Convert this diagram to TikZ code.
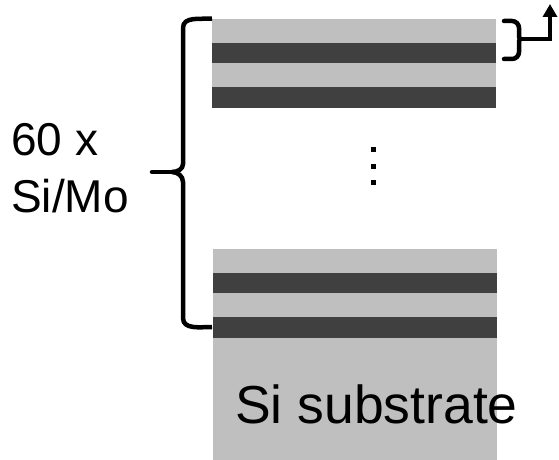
\documentclass[tikz,border=0pt]{standalone}
\usepackage{fontspec}
\setmainfont{Liberation Sans}
\usetikzlibrary{arrows.meta}
\definecolor{lightlay}{HTML}{BFBFBF}
\definecolor{darklay}{HTML}{404040}
\tikzset{
  light/.style={fill=lightlay,draw=none},
  dark/.style={fill=darklay,draw=none},
  bracestyle/.style={line width=4.5pt,black,line cap=round},
  dotbox/.style={fill=black,draw=none,minimum size=5pt,inner sep=0pt},
  lbl/.style={inner sep=0pt,anchor=base west}
}
\begin{document}
\begin{tikzpicture}[x=1pt,y=-1pt]
\useasboundingbox (0,0) rectangle (559,460);
% top stack
\fill[light] (212,19) rectangle (496,43);
\fill[dark] (212,43) rectangle (496,63);
\fill[light] (212,63) rectangle (496,87);
\fill[dark] (212,87) rectangle (496,108);
% bottom stack
\fill[light] (213,249) rectangle (497,273);
\fill[dark] (213,273) rectangle (497,293);
\fill[light] (213,293) rectangle (497,317);
\fill[dark] (213,317) rectangle (497,338);
\fill[light] (213,338) rectangle (497,460);
% dots
\node[dotbox] (d1) at (373,149) {};
\node[dotbox] (d2) at (373,166) {};
\node[dotbox] (d3) at (373,182) {};
% labels
\node[lbl] (sub) at (235,423) {\fontsize{53.5}{60}\selectfont Si substrate};
\node[lbl] (n60) at (11,155) {\fontsize{46}{54}\selectfont 60 x};
\node[lbl] (simo) at (11,212) {\fontsize{46}{54}\selectfont Si/Mo};
% left brace
\draw[bracestyle,line cap=butt] (212,18.5) to[out=185,in=90] (183,28) -- (183,164)
  to[out=-90,in=0] (172,172);
\draw[bracestyle] (172,172) -- (152,172);
\draw[bracestyle,line cap=butt] (172,172) to[out=0,in=90] (183,182) -- (183,318)
  to[out=-90,in=180] (212,327);
% right bracket
\coordinate (rb) at (521,39);
\coordinate (up) at (550,39);
\coordinate (tip) at (550,4);
\draw[bracestyle] (504,21) -- (512,21) to[out=0,in=90] (519,28) -- (519,33)
  to[out=-90,in=180] (rb);
\draw[bracestyle] (rb) to[out=180,in=90] (519,45) -- (519,52)
  to[out=-90,in=0] (512,59) -- (504,59);
\draw[bracestyle,line cap=butt,-{Triangle[length=13pt,width=14pt]}] (rb) -- (up) -- (tip);
\end{tikzpicture}
\end{document}
